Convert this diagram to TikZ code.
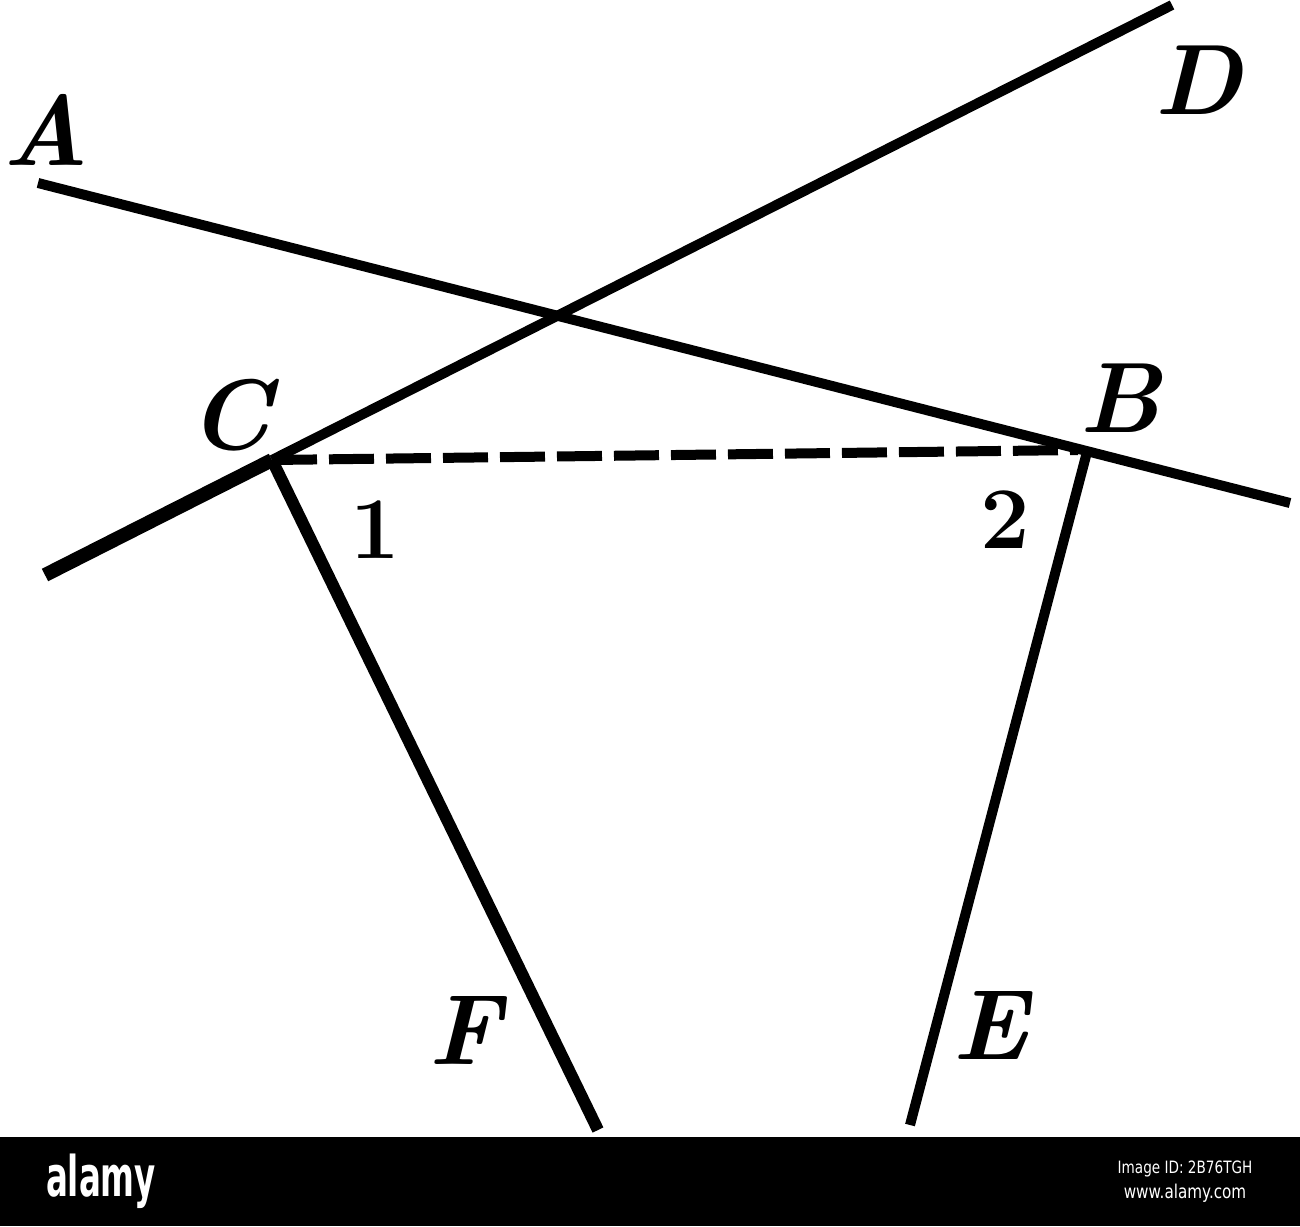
\documentclass[tikz,border=0pt]{standalone}
\usepackage{fontspec}
\newfontfamily\wmfont{DejaVu Sans}
\begin{document}
\begin{tikzpicture}[x=1pt,y=-1pt,
  geo/.style={line width=10pt, line cap=butt},
  lbl/.style={font=\fontsize{100}{100}\selectfont\bfseries\itshape, inner sep=0pt},
  num/.style={font=\fontsize{88}{88}\selectfont\bfseries, inner sep=0pt},
  wm/.style={text=white, inner sep=0pt}]
\useasboundingbox (0,0) rectangle (1300,1226);
% points
\coordinate (a0) at (38,183);
\coordinate (a1) at (1290,503);
\coordinate (d0) at (45,575);
\coordinate (d1) at (1172,5);
\coordinate (c) at (272,460);
\coordinate (b) at (1078,450);
\coordinate (bt) at (1087,452);
\coordinate (f) at (598,1130);
\coordinate (e) at (910,1125);
% lines
\draw[geo, line width=10pt] (a0) -- (a1);
\draw[geo, line width=14pt] (d0) -- (c);
\draw[geo, line width=10pt] (c) -- (d1);
\draw[geo, line width=12pt] (c) -- (f);
\draw[geo, line width=10pt] (bt) -- (e);
\draw[line width=10pt, dash pattern=on 45pt off 12pt] (c) -- (b);
% labels
\node[lbl] (lA) at (46,130) {A};
\node[lbl] (lD) at (1198,80) {D};
\node[lbl] (lC) at (230,415) {C};
\node[lbl] (lB) at (1120,398) {B};
\node[lbl] (lF) at (465,1030) {F};
\node[lbl] (lE) at (990,1025) {E};
\node[num] (n1) at (375,530) {1};
\node[num] (n2) at (1005,520) {2};
% watermark band
\fill[black] (0,1137) rectangle (1300,1226);
\node[wm, font=\wmfont\bfseries\fontsize{56}{56}\selectfont, xscale=0.58] (wm1) at (101,1181) {alamy};
\node[wm, font=\wmfont\fontsize{17}{17}\selectfont, xscale=0.8] (wm2) at (1185,1169) {Image ID: 2B76TGH};
\node[wm, font=\wmfont\fontsize{19}{19}\selectfont, xscale=0.8] (wm3) at (1185,1193) {www.alamy.com};
\end{tikzpicture}
\end{document}
